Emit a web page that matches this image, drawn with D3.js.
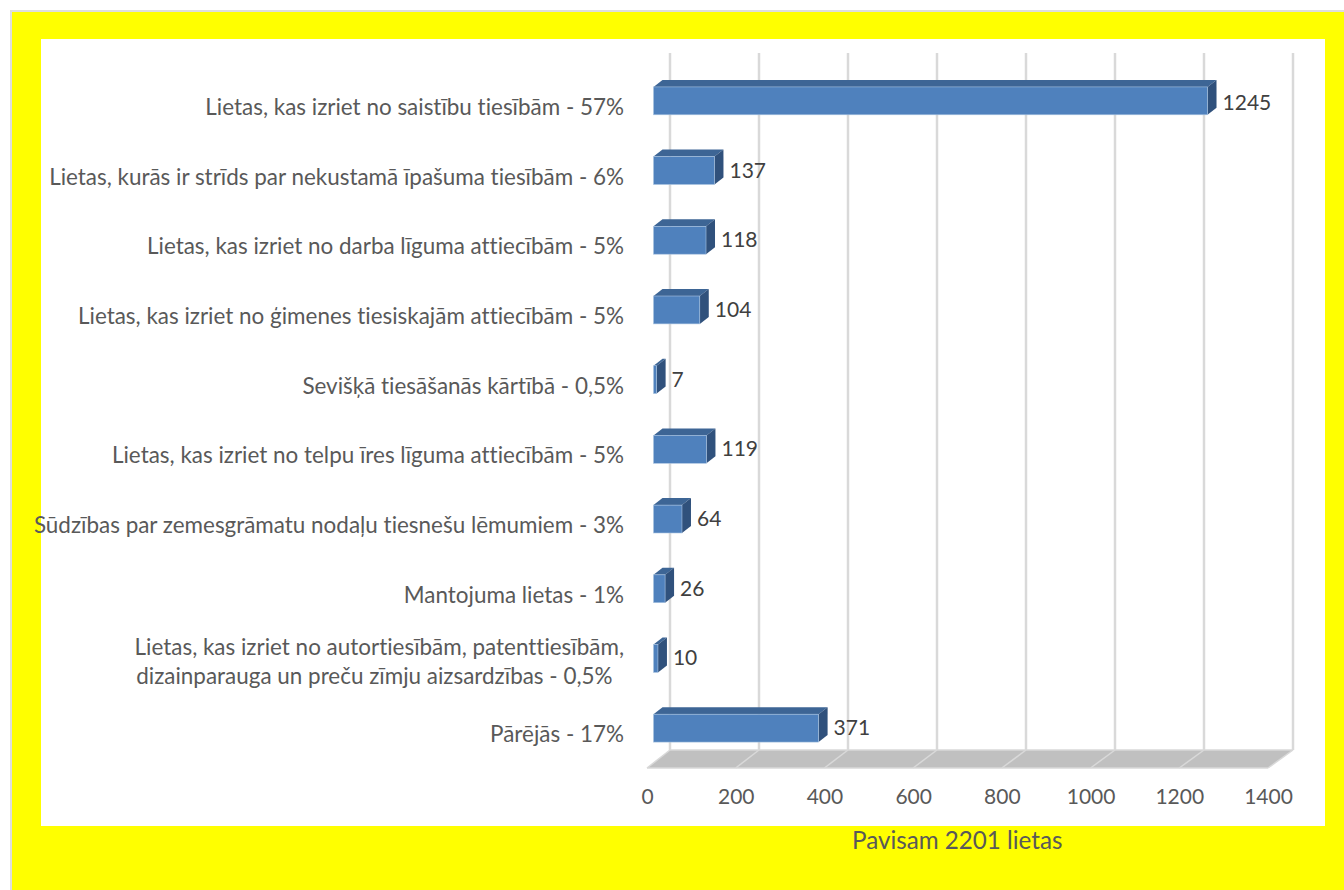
<!DOCTYPE html>
<html>
<head>
<meta charset="utf-8">
<script src="https://cdn.jsdelivr.net/npm/d3@7"></script>
<style>
  html, body { margin: 0; padding: 0; background: #fff; }
  svg { display: block; }
  text { font-family: Lato, "Open Sans", sans-serif; font-variant-ligatures: none; }
</style>
</head>
<body>
<div id="chart"></div>
<script>
// values
const categories = [
    ["Lietas, kas izriet no saistību tiesībām - 57%"],
    ["Lietas, kurās ir strīds par nekustamā īpašuma tiesībām - 6%"],
    ["Lietas, kas izriet no darba līguma attiecībām - 5%"],
    ["Lietas, kas izriet no ģimenes tiesiskajām attiecībām - 5%"],
    ["Sevišķā tiesāšanās kārtībā - 0,5%"],
    ["Lietas, kas izriet no telpu īres līguma attiecībām - 5%"],
    ["Sūdzības par zemesgrāmatu nodaļu tiesnešu lēmumiem - 3%"],
    ["Mantojuma lietas - 1%"],
    ["Lietas, kas izriet no autortiesībām, patenttiesībām,", "dizainparauga un preču zīmju aizsardzības - 0,5%\u00a0\u00a0"],
    ["Pārējās - 17%"]
];
const values = [1245, 137, 118, 104, 7, 119, 64, 26, 10, 371];
const xTicks = [0, 200, 400, 600, 800, 1000, 1200, 1400];
const totalLabel = "Pavisam 2201 lietas";

const width = 1344;
const height = 890;

// 3d offset of the floor and of the bars
const barDx = 9, barDy = 7;
const floorFront = 768;
const floorBack = 750;
const gridTop = 53;

const xFloor = d3.scaleLinear().domain([0, 1400]).range([647, 1268]);
const xBack = d3.scaleLinear().domain([0, 1400]).range([670, 1293]);
const xBar = d3.scaleLinear().domain([0, 1400]).range([653.5, 1276.5]);
const yBand = d3.scaleBand().domain(d3.range(categories.length))
    .range([66, 763]).paddingInner(0.6).paddingOuter(0.3);

const svg = d3.select("#chart").append("svg")
    .attr("width", width)
    .attr("height", height);

// page frame
svg.append("rect").attr("x", 10).attr("y", 10).attr("width", width - 10).attr("height", height - 10).attr("fill", "#dedede");
svg.append("rect").attr("x", 12).attr("y", 12).attr("width", width - 12).attr("height", height - 12).attr("fill", "#ffff00");
svg.append("rect").attr("x", 41).attr("y", 39).attr("width", 1284).attr("height", 787).attr("fill", "#fff");

// floor
svg.append("polygon")
    .attr("points", [
        [xFloor(0), floorFront], [xFloor(1400), floorFront],
        [xBack(1400), floorBack], [xBack(0), floorBack]
    ].join(" "))
    .attr("fill", "#c0c0c0");

// grid, back wall and the slants on the floor
const grid = svg.append("g");
grid.selectAll("line.back").data(xTicks).join("line")
    .attr("class", "back")
    .attr("x1", d => xBack(d)).attr("x2", d => xBack(d))
    .attr("y1", gridTop).attr("y2", floorBack)
    .attr("stroke", "#d9d9d9").attr("stroke-width", 2.5);
grid.selectAll("line.slant").data(xTicks).join("line")
    .attr("class", "slant")
    .attr("x1", d => xFloor(d)).attr("x2", d => xBack(d))
    .attr("y1", floorFront).attr("y2", floorBack)
    .attr("stroke", "#d9d9d9").attr("stroke-width", 1.5);
svg.append("line")
    .attr("x1", xFloor(0)).attr("x2", xFloor(1400))
    .attr("y1", floorFront).attr("y2", floorFront)
    .attr("stroke", "#d9d9d9").attr("stroke-width", 1.5);
svg.append("line")
    .attr("x1", xBack(0)).attr("x2", xBack(1400))
    .attr("y1", floorBack).attr("y2", floorBack)
    .attr("stroke", "#d9d9d9").attr("stroke-width", 1.5);

// bars
const bars = svg.append("g").selectAll("g").data(values).join("g");
const x0 = xBar(0);
bars.append("polygon") // top
    .attr("points", (d, i) => {
        const y = yBand(i), x1 = xBar(d);
        return [[x0, y], [x1, y], [x1 + barDx, y - barDy], [x0 + barDx, y - barDy]].join(" ");
    })
    .attr("fill", "#3d6595");
bars.append("polygon") // side
    .attr("points", (d, i) => {
        const y = yBand(i), h = yBand.bandwidth(), x1 = xBar(d);
        return [[x1, y], [x1 + barDx, y - barDy], [x1 + barDx, y + h - barDy], [x1, y + h]].join(" ");
    })
    .attr("fill", "#30517c");
bars.append("rect") // front
    .attr("x", x0)
    .attr("y", (d, i) => yBand(i))
    .attr("width", d => xBar(d) - x0)
    .attr("height", yBand.bandwidth())
    .attr("fill", "#4f81bd")
    .attr("stroke", "#a9c3e0")
    .attr("stroke-width", 0.6);

// value labels
bars.append("text")
    .attr("x", d => xBar(d) + barDx + 6)
    .attr("y", (d, i) => yBand(i) + yBand.bandwidth() / 2 - barDy / 2 + (i === 0 ? 12.5 : 10.5))
    .attr("fill", "#404040")
    .style("font-size", "21px")
    .text(d => d);

// category labels
const labels = svg.append("g").selectAll("text").data(categories).join("text")
    .attr("text-anchor", "end")
    .attr("fill", "#595959")
    .style("font-size", "22.45px")
    .attr("y", (d, i) => yBand(i) + yBand.bandwidth() / 2 + 14 - (d.length - 1) * 17);
labels.selectAll("tspan").data(d => d).join("tspan")
    .attr("x", 624)
    .attr("dy", (d, i) => i ? 29 : 0)
    .text(d => d);

// x axis labels
const axis = svg.append("g")
    .attr("transform", `translate(0, ${floorFront})`)
    .call(d3.axisBottom(xFloor).tickValues(xTicks).tickFormat(d => d).tickSize(0).tickPadding(21));
axis.select(".domain").remove();
axis.selectAll("text")
    .attr("fill", "#595959")
    .style("font-size", "21px")
    .style("font-family", "Lato, sans-serif");

// total under the axis
svg.append("text")
    .attr("x", 852)
    .attr("y", 849)
    .attr("fill", "#595959")
    .style("font-size", "24.2px")
    .text(totalLabel);
</script>
</body>
</html>
